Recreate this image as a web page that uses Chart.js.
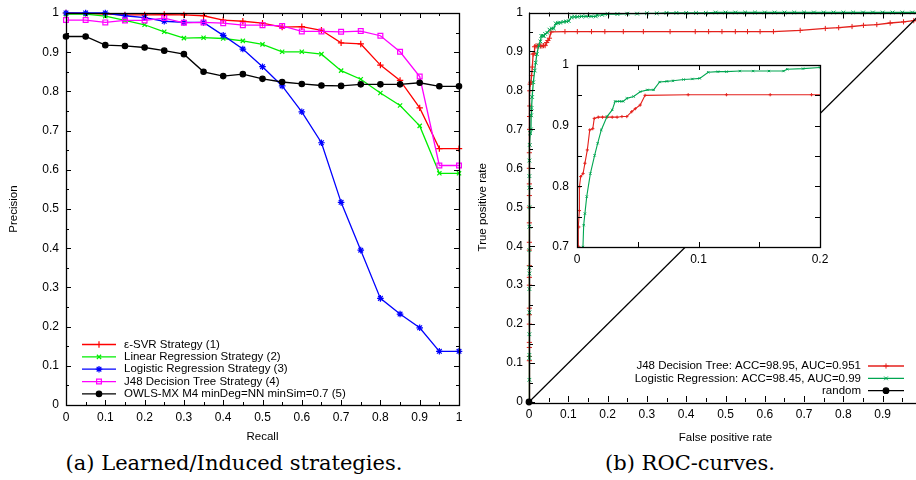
<!DOCTYPE html>
<html>
<head>
<meta charset="utf-8">
<script src="https://cdn.jsdelivr.net/npm/chart.js@4/dist/chart.umd.min.js"></script>
<style>
    body { margin: 0; background: #fff; width: 916px; height: 480px; overflow: hidden; position: relative; }
    canvas { position: absolute; }
    .caption { position: absolute; top: 451px; font-family: "DejaVu Serif", serif; font-size: 21px; color: #000; white-space: nowrap; transform: translateX(-50%); }
</style>
</head>
<body>
<canvas id="prChart" width="470" height="445" style="left:0;top:0"></canvas>
<canvas id="rocChart" width="470" height="445" style="left:470px;top:0"></canvas>
<canvas id="insetChart" width="300" height="220" style="left:540px;top:50px"></canvas>
<div class="caption" style="left:234px">(a) Learned/Induced strategies.</div>
<div class="caption" style="left:690px">(b) ROC-curves.</div>
<script>
// (a) precision / recall
const recall = [0, 0.05, 0.1, 0.15, 0.2, 0.25, 0.3, 0.35, 0.4, 0.45, 0.5, 0.55, 0.6, 0.65, 0.7, 0.75, 0.8, 0.85, 0.9, 0.95, 1];
const svrPrecision = [1.0, 0.999, 0.997, 0.995, 0.995, 0.996, 0.995, 0.993, 0.982, 0.979, 0.974, 0.964, 0.965, 0.956, 0.924, 0.921, 0.867, 0.828, 0.758, 0.654, 0.654];
const linRegPrecision = [0.997, 0.997, 0.992, 0.981, 0.970, 0.952, 0.936, 0.937, 0.935, 0.929, 0.920, 0.901, 0.901, 0.895, 0.853, 0.831, 0.796, 0.764, 0.712, 0.591, 0.591];
const logRegPrecision = [1.0, 1.0, 1.0, 0.993, 0.988, 0.979, 0.976, 0.976, 0.943, 0.908, 0.863, 0.814, 0.748, 0.669, 0.517, 0.395, 0.272, 0.232, 0.197, 0.137, 0.137];
const j48Precision = [0.982, 0.982, 0.976, 0.981, 0.981, 0.987, 0.975, 0.976, 0.974, 0.969, 0.969, 0.967, 0.953, 0.953, 0.952, 0.954, 0.942, 0.901, 0.838, 0.611, 0.611];
const owlsPrecision = [0.940, 0.940, 0.918, 0.916, 0.912, 0.904, 0.895, 0.850, 0.839, 0.844, 0.832, 0.824, 0.819, 0.815, 0.814, 0.818, 0.818, 0.818, 0.822, 0.813, 0.813];
const prLabels = ['ε-SVR Strategy (1)', 'Linear Regression Strategy (2)', 'Logistic Regression Strategy (3)', 'J48 Decision Tree Strategy (4)', 'OWLS-MX M4 minDeg=NN minSim=0.7 (5)'];

// (b) ROC curves
const j48Fpr = [0,
    0.001, 0.001, 0.001, 0.001, 0.001, 0.001, 0.001, 0.001, 0.001, 0.001, 0.001, 0.001, 0.001, 0.001, 0.001, 0.001, 0.001, 0.001,
    0.0015, 0.0015, 0.002, 0.002, 0.003, 0.005, 0.0065, 0.0085, 0.0105, 0.013,
    0.0142, 0.0175, 0.021, 0.0247, 0.029, 0.033, 0.037, 0.041, 0.045, 0.048,
    0.052, 0.056, 0.0915, 0.123, 0.159, 0.193, 0.24, 0.291, 0.359, 0.423,
    0.457, 0.491, 0.525, 0.556, 0.588, 0.622, 0.69, 0.754, 0.788, 0.822,
    0.851, 0.885, 0.919, 0.953, 0.979, 1];
const j48Tpr = [0,
    0.106, 0.117, 0.14, 0.153, 0.2, 0.224, 0.241, 0.3, 0.32, 0.35, 0.39, 0.41, 0.46, 0.5, 0.53, 0.56, 0.6, 0.64,
    0.7, 0.733, 0.76, 0.799, 0.816, 0.821, 0.838, 0.86, 0.893, 0.895,
    0.912, 0.914, 0.914, 0.914, 0.914, 0.914, 0.915, 0.915, 0.923, 0.928,
    0.934, 0.95, 0.951, 0.951, 0.951, 0.951, 0.951, 0.951, 0.951, 0.951,
    0.951, 0.951, 0.951, 0.951, 0.951, 0.951, 0.954, 0.959, 0.961, 0.964,
    0.967, 0.969, 0.973, 0.976, 0.979, 0.98];
const logFpr = [0,
    0.001, 0.001, 0.001, 0.001, 0.001, 0.001, 0.001, 0.001, 0.001, 0.001, 0.001, 0.001, 0.001, 0.001,
    0.002, 0.003, 0.0049, 0.0055, 0.0065, 0.008, 0.011, 0.0145, 0.017, 0.02,
    0.0247, 0.029, 0.0314, 0.035, 0.038, 0.041, 0.0466, 0.052, 0.058, 0.063,
    0.068, 0.074, 0.079, 0.0877, 0.095, 0.101, 0.108, 0.116, 0.123, 0.134,
    0.145, 0.158, 0.170, 0.173, 0.186,
    0.2, 0.225, 0.25, 0.275, 0.3, 0.325, 0.35, 0.375, 0.4, 0.425, 0.45,
    0.475, 0.5, 0.525, 0.55, 0.575, 0.6, 0.625, 0.65, 0.675, 0.7, 0.725,
    0.75, 0.775, 0.8, 0.825, 0.85, 0.875, 0.9, 0.925, 0.95, 0.975, 1];
const logTpr = [0,
    0.057, 0.113, 0.121, 0.174, 0.23, 0.29, 0.33, 0.345, 0.39, 0.45, 0.5, 0.55, 0.58, 0.62,
    0.66, 0.69, 0.7, 0.736, 0.755, 0.783, 0.821, 0.851, 0.871, 0.893,
    0.915, 0.926, 0.94, 0.94, 0.94, 0.945, 0.948, 0.956, 0.959, 0.959,
    0.972, 0.973, 0.974, 0.976, 0.977, 0.978, 0.988, 0.989, 0.989, 0.99,
    0.99, 0.99, 0.99, 0.993, 0.994,
    0.996, 0.996, 0.997, 0.997, 0.998, 0.998, 0.999, 0.999, 0.999, 0.999, 0.999,
    1, 1, 1, 1, 1, 1, 1, 1, 1, 1, 1,
    1, 1, 1, 1, 1, 1, 1, 1, 1, 1, 1];
const randomFpr = [0, 1];
const randomTpr = [0, 1];
const rocLabels = ['J48 Decision Tree: ACC=98.95, AUC=0.951', 'Logistic Regression: ACC=98.45, AUC=0.99', 'random'];

const FONT = '"Liberation Sans", Arial, sans-serif';
Chart.defaults.font.family = FONT;
Chart.defaults.color = '#000';

function points(xs, ys) {
    return xs.map((x, i) => ({ x: x, y: ys[i] }));
}

function fmt(v) {
    return String(Number(v.toFixed(2)));
}

// gnuplot style frame with inward ticks on all four sides
const framePlugin = {
    id: 'frame',
    beforeDraw(chart, args, opts) {
        if (!opts.fill) return;
        const a = chart.chartArea;
        chart.ctx.save();
        chart.ctx.fillStyle = opts.fill;
        chart.ctx.fillRect(a.left, a.top, a.right - a.left, a.bottom - a.top);
        chart.ctx.restore();
    },
    afterDatasetsDraw(chart, args, opts) {
        const ctx = chart.ctx;
        const a = chart.chartArea;
        const x = chart.scales.x, y = chart.scales.y;
        ctx.save();
        ctx.strokeStyle = '#000';
        ctx.lineWidth = 1;
        ctx.beginPath();
        for (let i = 0; x.min + i * opts.xStep <= x.max + 1e-9; i++) {
            const v = x.min + i * opts.xStep;
            const len = i % 2 === 0 ? opts.major : opts.minor;
            const px = Math.round(x.getPixelForValue(v)) + 0.5;
            ctx.moveTo(px, a.bottom); ctx.lineTo(px, a.bottom - len);
            ctx.moveTo(px, a.top); ctx.lineTo(px, a.top + len);
        }
        for (let i = 0; y.min + i * opts.yStep <= y.max + 1e-9; i++) {
            const v = y.min + i * opts.yStep;
            const len = i % 2 === 0 ? opts.major : opts.minor;
            const py = Math.round(y.getPixelForValue(v)) + 0.5;
            ctx.moveTo(a.left, py); ctx.lineTo(a.left + len, py);
            ctx.moveTo(a.right, py); ctx.lineTo(a.right - len, py);
        }
        ctx.stroke();
        ctx.lineWidth = 1.3;
        ctx.strokeRect(Math.round(a.left) + 0.5, Math.round(a.top) + 0.5, Math.round(a.right - a.left), Math.round(a.bottom - a.top));
        ctx.restore();
    }
};

// legend drawn like gnuplot's key: sample line with a point on it
const keyPlugin = {
    id: 'key',
    afterDatasetsDraw(chart, args, opts) {
        if (!opts.rows) return;
        const ctx = chart.ctx;
        ctx.save();
        ctx.font = opts.font;
        ctx.textBaseline = 'middle';
        opts.rows.forEach((idx, i) => {
            const ds = chart.data.datasets[idx];
            const yy = opts.y + i * opts.rowH;
            ctx.strokeStyle = ds.borderColor;
            ctx.lineWidth = ds.borderWidth;
            ctx.beginPath();
            ctx.moveTo(opts.lineX1, yy);
            ctx.lineTo(opts.lineX2, yy);
            ctx.stroke();
            ctx.fillStyle = ds.pointBackgroundColor;
            ctx.lineWidth = ds.pointBorderWidth;
            Chart.helpers.drawPoint(ctx, { pointStyle: ds.pointStyle, radius: ds.pointRadius, rotation: 0, borderWidth: ds.pointBorderWidth }, (opts.lineX1 + opts.lineX2) / 2, yy);
            ctx.fillStyle = '#000';
            ctx.textAlign = opts.align;
            ctx.fillText(ds.label, opts.textX, yy);
        });
        ctx.restore();
    }
};

function lineSet(label, xs, ys, color, style, radius, order, extra) {
    return Object.assign({
        label: label,
        data: points(xs, ys),
        showLine: true,
        borderColor: color,
        borderWidth: 1.3,
        pointStyle: style,
        pointRadius: radius,
        pointBorderColor: color,
        pointBackgroundColor: style === 'circle' ? color : 'rgba(0,0,0,0)',
        pointBorderWidth: 1.2,
        tension: 0,
        clip: false,
        order: order
    }, extra || {});
}

function axis(min, max, step, title, size, pad, titlePad) {
    return {
        type: 'linear',
        min: min,
        max: max,
        grid: { display: false, drawTicks: false },
        border: { display: false },
        ticks: { stepSize: step, padding: pad, autoSkip: false, maxRotation: 0, color: '#000', font: { size: 12 }, callback: v => fmt(v) },
        title: { display: !!title, text: title, color: '#000', font: { size: 11.5 }, padding: titlePad || 0 },
        afterFit: s => {
            if (s.isHorizontal()) { s.height = size; s.paddingLeft = 0; s.paddingRight = 0; }
            else { s.width = size; s.paddingTop = 0; s.paddingBottom = 0; }
        }
    };
}

function drawPrecisionChart() {
    const ctx = document.getElementById('prChart').getContext('2d');
    new Chart(ctx, {
        type: 'scatter',
        data: {
            datasets: [
                lineSet(prLabels[0], recall, svrPrecision, '#ff0000', 'cross', 3.2, 4),
                lineSet(prLabels[1], recall, linRegPrecision, '#00ee00', 'crossRot', 3, 3),
                lineSet(prLabels[2], recall, logRegPrecision, '#0000ff', 'star', 3.3, 2),
                lineSet(prLabels[3], recall, j48Precision, '#ff00ff', 'rect', 3.4, 1),
                lineSet(prLabels[4], recall, owlsPrecision, '#000000', 'circle', 2.7, 0)
            ]
        },
        options: {
            responsive: false,
            animation: false,
            devicePixelRatio: 1,
            layout: { padding: { left: 0, right: 11, top: 13, bottom: 0 } },
            scales: {
                x: axis(0, 1, 0.1, 'Recall', 40, 5, { top: 0, bottom: 1 }),
                y: axis(0, 1, 0.1, 'Precision', 66, 7, { top: 7, bottom: 0 })
            },
            plugins: {
                legend: { display: false },
                tooltip: { enabled: false },
                frame: { xStep: 0.05, yStep: 0.05, major: 5, minor: 3 },
                key: { rows: [0, 1, 2, 3, 4], y: 344.5, rowH: 12.35, lineX1: 82, lineX2: 116, textX: 124, align: 'left', font: '11.5px ' + FONT }
            }
        },
        plugins: [framePlugin, keyPlugin]
    });
}

function rocSets(radius, lw, clip) {
    return [
        lineSet(rocLabels[0], j48Fpr, j48Tpr, '#e4211c', 'cross', radius, 2, { borderWidth: lw, pointBorderWidth: 1, clip: clip }),
        lineSet(rocLabels[1], logFpr, logTpr, '#00a651', 'crossRot', radius, 1, { borderWidth: lw, pointBorderWidth: 1, clip: clip }),
        lineSet(rocLabels[2], randomFpr, randomTpr, '#000000', 'circle', 2.8, 0, { borderWidth: 1.2, clip: clip })
    ];
}

function drawRocChart() {
    const ctx = document.getElementById('rocChart').getContext('2d');
    new Chart(ctx, {
        type: 'scatter',
        data: { datasets: rocSets(2.6, 1.3, false) },
        options: {
            responsive: false,
            animation: false,
            devicePixelRatio: 1,
            layout: { padding: { left: 0, right: 18, top: 12.5, bottom: 0 } },
            scales: {
                x: axis(0, 1, 0.1, 'False positive rate', 43, 5, { top: 0, bottom: 0 }),
                y: axis(0, 1, 0.1, 'True positive rate', 59, 6, { top: 6, bottom: 0 })
            },
            plugins: {
                legend: { display: false },
                tooltip: { enabled: false },
                frame: { xStep: 0.05, yStep: 0.05, major: 6, minor: 4 },
                key: { rows: [0, 1, 2], y: 366, rowH: 12.35, lineX1: 398, lineX2: 434, textX: 391, align: 'right', font: '11.5px ' + FONT }
            }
        },
        plugins: [framePlugin, keyPlugin]
    });
}

function drawInsetChart() {
    const ctx = document.getElementById('insetChart').getContext('2d');
    new Chart(ctx, {
        type: 'scatter',
        data: { datasets: rocSets(1.6, 1.1, 0).slice(0, 2) },
        options: {
            responsive: false,
            animation: false,
            devicePixelRatio: 1,
            layout: { padding: { left: 0, right: 20, top: 15, bottom: 0 } },
            scales: {
                x: axis(0, 0.2, 0.1, '', 23, 5),
                y: axis(0.7, 1, 0.1, '', 37, 8)
            },
            plugins: {
                legend: { display: false },
                tooltip: { enabled: false },
                frame: { fill: '#ffffff', xStep: 0.05, yStep: 0.05, major: 5, minor: 5 }
            }
        },
        plugins: [framePlugin]
    });
}

drawPrecisionChart();
drawRocChart();
drawInsetChart();
</script>
</body>
</html>
